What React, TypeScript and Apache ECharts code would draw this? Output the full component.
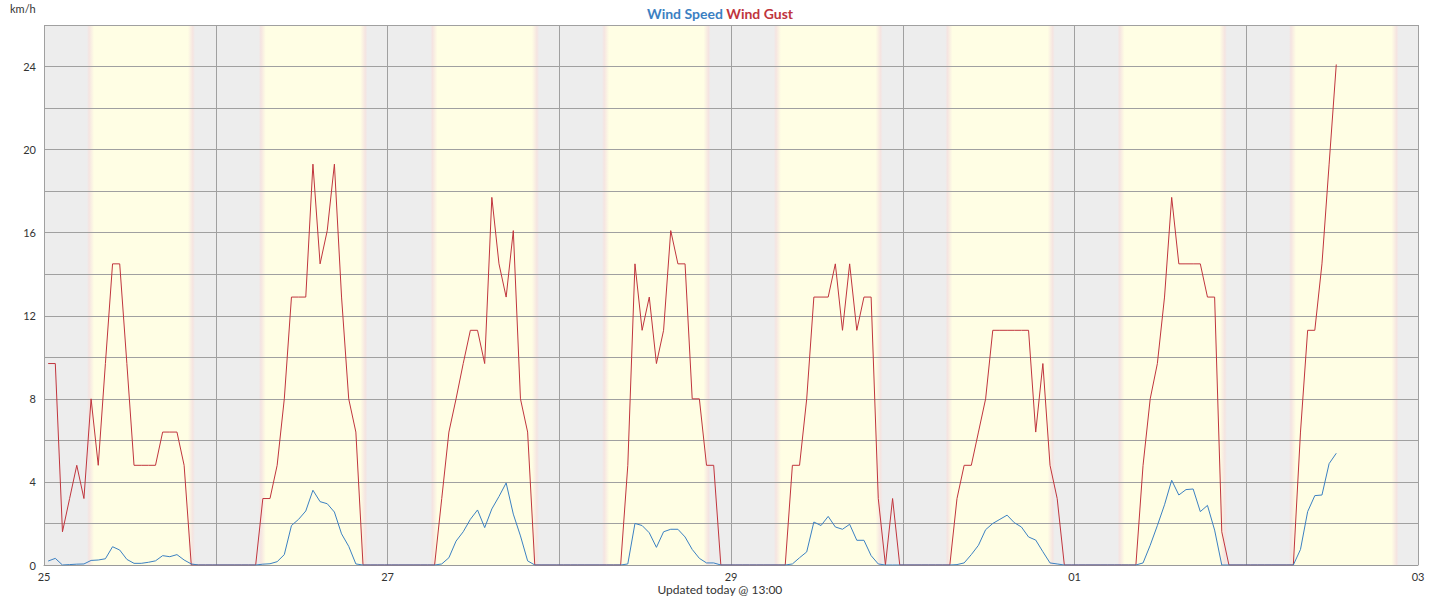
import React, { useEffect, useRef } from "react";
import * as echarts from "echarts";

// x-axis day labels (one per midnight)
const dayLabels = ["25", "26", "27", "28", "29", "30", "01", "02", "03"];
// readings are hourly, taken at about HH:35
const hourOffset = 0.58;

// Wind speed (km/h), hourly per day
const speed25 = [0.19, 0.32, 0, 0.02, 0.04, 0.05, 0.22, 0.24, 0.3, 0.88, 0.72, 0.27, 0.08, 0.08, 0.13, 0.2, 0.45, 0.4, 0.5, 0.24, 0.05, 0, 0, 0];
const speed26 = [0, 0, 0, 0, 0, 0, 0.04, 0.06, 0.16, 0.5, 1.9, 2.2, 2.6, 3.6, 3.05, 2.95, 2.55, 1.5, 0.9, 0.05, 0, 0, 0, 0];
const speed27 = [0, 0, 0, 0, 0, 0, 0, 0.05, 0.35, 1.15, 1.6, 2.2, 2.65, 1.8, 2.7, 3.3, 3.95, 2.45, 1.4, 0.2, 0, 0, 0, 0];
const speed28 = [0, 0, 0, 0, 0, 0, 0, 0, 0, 0.05, 2.0, 1.9, 1.55, 0.85, 1.6, 1.72, 1.72, 1.35, 0.75, 0.32, 0.1, 0.1, 0, 0];
const speed29 = [0, 0, 0, 0, 0, 0, 0, 0, 0.05, 0.35, 0.63, 2.07, 1.9, 2.34, 1.83, 1.72, 1.96, 1.19, 1.19, 0.45, 0.05, 0, 0, 0];
const speed30 = [0, 0, 0, 0, 0, 0, 0, 0.02, 0.1, 0.5, 0.95, 1.7, 2.0, 2.2, 2.4, 2.04, 1.83, 1.35, 1.2, 0.64, 0.1, 0.05, 0, 0];
const speed01 = [0, 0, 0, 0, 0, 0, 0, 0, 0, 0.1, 0.95, 1.9, 2.9, 4.08, 3.37, 3.63, 3.66, 2.57, 2.87, 1.68, 0, 0, 0, 0];
const speed02 = [0, 0, 0, 0, 0, 0, 0, 0.75, 2.57, 3.34, 3.37, 4.88, 5.38];

// Wind gust (km/h), hourly per day
const gust25 = [9.7, 9.7, 1.6, 3.2, 4.8, 3.2, 8.0, 4.8, 9.7, 14.5, 14.5, 9.7, 4.8, 4.8, 4.8, 4.8, 6.4, 6.4, 6.4, 4.8, 0, 0, 0, 0];
const gust26 = [0, 0, 0, 0, 0, 0, 3.2, 3.2, 4.8, 8.0, 12.9, 12.9, 12.9, 19.3, 14.5, 16.1, 19.3, 12.9, 8.0, 6.4, 0, 0, 0, 0];
const gust27 = [0, 0, 0, 0, 0, 0, 0, 3.2, 6.4, 8.0, 9.7, 11.3, 11.3, 9.7, 17.7, 14.5, 12.9, 16.1, 8.0, 6.4, 0, 0, 0, 0];
const gust28 = [0, 0, 0, 0, 0, 0, 0, 0, 0, 4.8, 14.5, 11.3, 12.9, 9.7, 11.3, 16.1, 14.5, 14.5, 8.0, 8.0, 4.8, 4.8, 0, 0];
const gust29 = [0, 0, 0, 0, 0, 0, 0, 0, 4.8, 4.8, 8.0, 12.9, 12.9, 12.9, 14.5, 11.3, 14.5, 11.3, 12.9, 12.9, 3.2, 0, 3.2, 0];
const gust30 = [0, 0, 0, 0, 0, 0, 0, 3.2, 4.8, 4.8, 6.4, 8.0, 11.3, 11.3, 11.3, 11.3, 11.3, 11.3, 6.4, 9.7, 4.8, 3.2, 0, 0];
const gust01 = [0, 0, 0, 0, 0, 0, 0, 0, 0, 4.8, 8.0, 9.7, 12.9, 17.7, 14.5, 14.5, 14.5, 14.5, 12.9, 12.9, 1.6, 0, 0, 0];
const gust02 = [0, 0, 0, 0, 0, 0, 0, 6.4, 11.3, 11.3, 14.5, 19.3, 24.1];

// daylight (hours after midnight) for each plotted day
const sunriseHours = [6.3, 6.3, 6.28, 6.27, 6.28, 6.25, 6.3, 6.25];
const sunsetHours = [20.8, 20.9, 20.88, 20.85, 20.9, 20.95, 21.0, 21.0];

const speedDays = [speed25, speed26, speed27, speed28, speed29, speed30, speed01, speed02];
const gustDays = [gust25, gust26, gust27, gust28, gust29, gust30, gust01, gust02];

const BLUE = "#3b80c2";
const RED = "#c0353d";
const NIGHT = "#ededed";
const DAY = "#fffee4";
const TWILIGHT = "#f5e4e1";

function toPoints(days: number[][]) {
  const out: number[][] = [];
  days.forEach((arr, d) => {
    arr.forEach((v, h) => out.push([d * 24 + h + hourOffset, v]));
  });
  return out;
}

export default function App() {
  const ref = useRef<HTMLDivElement>(null);
  useEffect(() => {
    document.body.style.margin = "0";
    const chart = echarts.init(ref.current!, null, { renderer: "svg" });

    const areas: any[] = [[{ xAxis: 0, itemStyle: { color: NIGHT } }, { xAxis: 192 }]];
    sunriseHours.forEach((sr, d) => {
      const ss = sunsetHours[d];
      const a = d * 24 + sr - 0.3;
      const b = d * 24 + ss + 0.3;
      const span = b - a;
      const p1 = 0.3 / span;
      const p2 = 1.0 / span;
      areas.push([
        {
          xAxis: a,
          itemStyle: {
            color: new echarts.graphic.LinearGradient(0, 0, 1, 0, [
              { offset: 0, color: NIGHT },
              { offset: p1, color: TWILIGHT },
              { offset: p2, color: DAY },
              { offset: 1 - p2, color: DAY },
              { offset: 1 - p1, color: TWILIGHT },
              { offset: 1, color: NIGHT },
            ]),
          },
        },
        { xAxis: b },
      ]);
    });

    const option: any = {
      animation: false,
      backgroundColor: "#ffffff",
      textStyle: { fontFamily: "Lato" },
      title: {
        text: "{s|Wind Speed} {g|Wind Gust}",
        left: "center",
        top: 1,
        textStyle: {
          fontSize: 14,
          fontWeight: "bold",
          fontFamily: "Lato",
          rich: {
            s: { color: BLUE, fontSize: 14, fontWeight: "bold", fontFamily: "Lato" },
            g: { color: RED, fontSize: 14, fontWeight: "bold", fontFamily: "Lato" },
          },
        },
      },
      grid: { left: 44, right: 22, top: 25, bottom: 35, show: false },
      graphic: [
        {
          type: "text",
          left: 10,
          top: 3,
          style: { text: "km/h", font: "11px Lato", fill: "#333" },
        },
        {
          type: "text",
          left: "center",
          top: 583,
          style: { text: "Updated today @ 13:00", font: "12px Lato", fill: "#333" },
        },
      ],
      xAxis: {
        type: "value",
        min: 0,
        max: 192,
        interval: 24,
        z: 2,
        axisLine: { show: true, lineStyle: { color: "#9a9a9a", width: 1 } },
        axisTick: { show: false },
        axisLabel: {
          margin: 6,
          fontSize: 11,
          color: "#333",
          fontFamily: "Lato",
          formatter: (v: number) => {
            const i = Math.round(v / 24);
            return i % 2 === 0 ? dayLabels[i] : "";
          },
        },
        splitLine: { show: true, showMinLine: true, showMaxLine: true, lineStyle: { color: "#a0a0a0", width: 1 } },
      },
      yAxis: {
        type: "value",
        min: 0,
        max: 26,
        interval: 2,
        z: 2,
        axisLine: { show: false },
        axisTick: { show: false },
        axisLabel: {
          margin: 8,
          fontSize: 11,
          color: "#333",
          fontFamily: "Lato",
          formatter: (v: number) => (v % 4 === 0 && v < 26 ? String(v) : ""),
        },
        splitLine: { show: true, showMinLine: true, showMaxLine: true, lineStyle: { color: "#a0a0a0", width: 1 } },
      },
      series: [
        {
          type: "line",
          name: "background",
          data: [],
          z: 1,
          silent: true,
          markArea: { silent: true, data: areas },
        },
        {
          type: "line",
          name: "Wind Gust",
          data: toPoints(gustDays),
          showSymbol: false,
          z: 3,
          lineStyle: { color: RED, width: 1 },
          itemStyle: { color: RED },
        },
        {
          type: "line",
          name: "Wind Speed",
          data: toPoints(speedDays),
          showSymbol: false,
          z: 4,
          lineStyle: { color: BLUE, width: 1 },
          itemStyle: { color: BLUE },
        },
      ],
    };
    chart.setOption(option);
    return () => chart.dispose();
  }, []);
  return <div ref={ref} style={{ width: 1440, height: 600 }} />;
}
